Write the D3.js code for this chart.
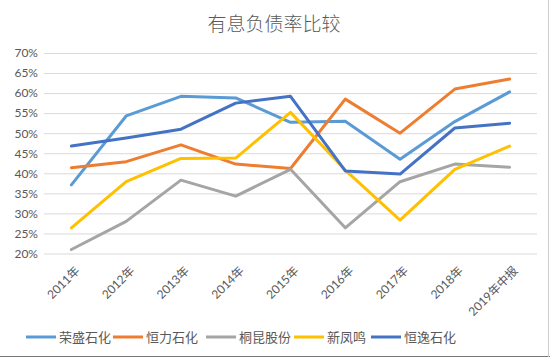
<!DOCTYPE html>
<html><head><meta charset="utf-8">
<script src="https://cdn.jsdelivr.net/npm/d3@7"></script>
<style>body{margin:0;background:#fff}svg{display:block}</style>
</head><body><svg id="c" width="550" height="357"></svg>
<script>
const title = "有息负债率比较";
const categories = ["2011年","2012年","2013年","2014年","2015年","2016年","2017年","2018年","2019年中报"];
const seriesNames = ["荣盛石化","恒力石化","桐昆股份","新凤鸣","恒逸石化"];
const rongsheng = [37.1,54.3,59.2,58.8,52.7,53.0,43.5,52.9,60.3];
const hengli    = [41.4,42.9,47.1,42.3,41.2,58.5,50.0,61.0,63.5];
const tongkun   = [21.0,28.0,38.3,34.3,41.0,26.4,37.9,42.3,41.5];
const xinfengming=[26.4,37.9,43.7,43.8,55.2,40.8,28.3,41.0,46.8];
const hengyi    = [46.8,48.8,51.0,57.5,59.2,40.6,39.8,51.3,52.5];
const yTicks = [20,25,30,35,40,45,50,55,60,65,70];
const colors = ["#5B9BD5","#ED7D31","#A5A5A5","#FFC000","#4472C4"];

const seriesValues = [rongsheng,hengli,tongkun,xinfengming,hengyi];
const svg = d3.select("#c");
const font = "Lato, 'Noto Sans CJK SC', sans-serif";

const x = d3.scaleBand().domain(categories).range([44,537]);
const y = d3.scaleLinear().domain([20,70]).range([253.5,53]);

// border
svg.append("line").attr("x1",0).attr("x2",550).attr("y1",356.5).attr("y2",356.5).attr("stroke","#777");
svg.append("line").attr("x1",548.5).attr("x2",548.5).attr("y1",0).attr("y2",357).attr("stroke","#ccc");

// title
svg.append("text").attr("x",274).attr("y",31).attr("text-anchor","middle")
  .attr("font-family","'Noto Sans CJK SC', sans-serif").attr("font-weight",300).attr("font-size",19)
  .attr("fill","#595959").text(title);

// gridlines + y axis
const yAxis = d3.axisLeft(y).tickValues(yTicks).tickFormat(d=>d+"%").tickSize(-(537-44)).tickPadding(6);
const gy = svg.append("g").attr("transform","translate(44,0)").call(yAxis);
gy.select(".domain").remove();
gy.selectAll(".tick line").attr("stroke","#D9D9D9").attr("stroke-width",1);
gy.selectAll(".tick text").attr("font-family",font).attr("font-size",12).attr("fill","#595959");

// x axis labels
const xAxis = d3.axisBottom(x).tickSize(0).tickPadding(0);
const gx = svg.append("g").attr("transform","translate(0,253.5)").call(xAxis);
gx.select(".domain").remove();
gx.selectAll(".tick text")
  .attr("font-family",font).attr("font-size",12).attr("fill","#595959")
  .attr("text-anchor","end").attr("dy","0")
  .attr("transform","translate(9,18) rotate(-45)");

// lines
const line = d3.line().x((d,i)=>x(categories[i])+x.bandwidth()/2).y(d=>y(d));
seriesValues.forEach((vals,k)=>{
  svg.append("path").datum(vals).attr("d",line).attr("fill","none")
    .attr("stroke",colors[k]).attr("stroke-width",3).attr("stroke-linejoin","round").attr("stroke-linecap","round");
});

// legend
const legendX = [26,113,206,294,371];
const lg = svg.append("g");
seriesNames.forEach((n,k)=>{
  const g = lg.append("g").attr("transform",`translate(${legendX[k]},337)`);
  g.append("line").attr("x1",0).attr("x2",30).attr("y1",0).attr("y2",0).attr("stroke",colors[k]).attr("stroke-width",3);
  g.append("text").attr("x",33).attr("y",0).attr("dy","0.35em").attr("font-family",font)
    .attr("font-size",13).attr("fill","#595959").text(n);
});
</script></body></html>
